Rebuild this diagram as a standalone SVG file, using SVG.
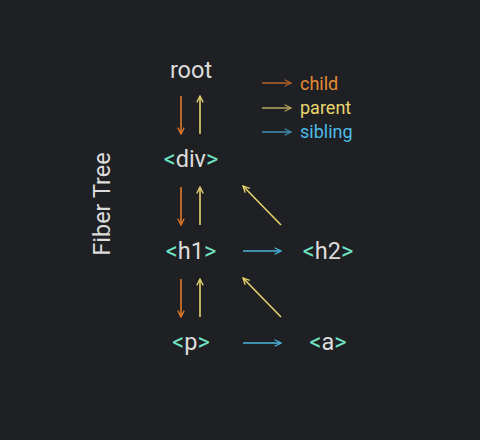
<svg xmlns="http://www.w3.org/2000/svg" width="480" height="440" viewBox="0 0 480 440">
<style>
text{font-family:Roboto,"Liberation Sans",sans-serif;fill:#dcdcdc}
.n{font-size:23.5px;text-anchor:middle}
.b{fill:#6fe3c3}
.lg{font-size:18px}
.c{stroke:#e07a2a}
.p{stroke:#e6d36c}
.s{stroke:#49b6df}
line{stroke-width:1.6;fill:none}
.dim{opacity:0.72}
</style>
<defs>
<marker id="ao" viewBox="0 0 10 10" refX="9" refY="5" markerWidth="8" markerHeight="8" markerUnits="userSpaceOnUse" orient="auto"><path d="M1,1 L9,5 L1,9" fill="none" stroke="#e07a2a" stroke-width="1.6"/></marker>
<marker id="ay" viewBox="0 0 10 10" refX="9" refY="5" markerWidth="8" markerHeight="8" markerUnits="userSpaceOnUse" orient="auto"><path d="M1,1 L9,5 L1,9" fill="none" stroke="#e6d36c" stroke-width="1.6"/></marker>
<marker id="ab" viewBox="0 0 10 10" refX="9" refY="5" markerWidth="8" markerHeight="8" markerUnits="userSpaceOnUse" orient="auto"><path d="M1,1 L9,5 L1,9" fill="none" stroke="#49b6df" stroke-width="1.6"/></marker>
</defs>
<rect width="480" height="440" fill="#1f2023"/>
<text class="n" transform="translate(110,204) rotate(-90)">Fiber Tree</text>
<g id="root"><text class="n" x="191" y="78">root</text></g>
<g id="div"><text class="n" x="191" y="167"><tspan class="b">&lt;</tspan>div<tspan class="b">&gt;</tspan></text></g>
<g id="h1"><text class="n" x="191" y="259"><tspan class="b">&lt;</tspan>h1<tspan class="b">&gt;</tspan></text></g>
<g id="h2"><text class="n" x="328" y="259"><tspan class="b">&lt;</tspan>h2<tspan class="b">&gt;</tspan></text></g>
<g id="p"><text class="n" x="191" y="350"><tspan class="b">&lt;</tspan>p<tspan class="b">&gt;</tspan></text></g>
<g id="a"><text class="n" x="328" y="350"><tspan class="b">&lt;</tspan>a<tspan class="b">&gt;</tspan></text></g>
<g id="legend">
<line class="c dim" x1="262" y1="83" x2="291" y2="83" marker-end="url(#ao)"/>
<text class="lg" x="300" y="90" style="fill:#e58a35">child</text>
<line class="p dim" x1="262" y1="108" x2="291" y2="108" marker-end="url(#ay)"/>
<text class="lg" x="300" y="114" style="fill:#e8d66e">parent</text>
<line class="s dim" x1="262" y1="132" x2="291" y2="132" marker-end="url(#ab)"/>
<text class="lg" x="300" y="138" style="fill:#4cbbe6">sibling</text>
</g>
<g id="connectors">
<line class="c" x1="181" y1="96" x2="181" y2="134" marker-end="url(#ao)"/>
<line class="p" x1="200" y1="134" x2="200" y2="96" marker-end="url(#ay)"/>
<line class="c" x1="181" y1="187" x2="181" y2="225" marker-end="url(#ao)"/>
<line class="p" x1="200" y1="225" x2="200" y2="187" marker-end="url(#ay)"/>
<line class="p" x1="281" y1="225" x2="243" y2="186" marker-end="url(#ay)"/>
<line class="s" x1="243" y1="251" x2="281" y2="251" marker-end="url(#ab)"/>
<line class="c" x1="181" y1="279" x2="181" y2="317" marker-end="url(#ao)"/>
<line class="p" x1="200" y1="317" x2="200" y2="279" marker-end="url(#ay)"/>
<line class="p" x1="281" y1="317" x2="243" y2="278" marker-end="url(#ay)"/>
<line class="s" x1="243" y1="343" x2="281" y2="343" marker-end="url(#ab)"/>
</g>
</svg>
